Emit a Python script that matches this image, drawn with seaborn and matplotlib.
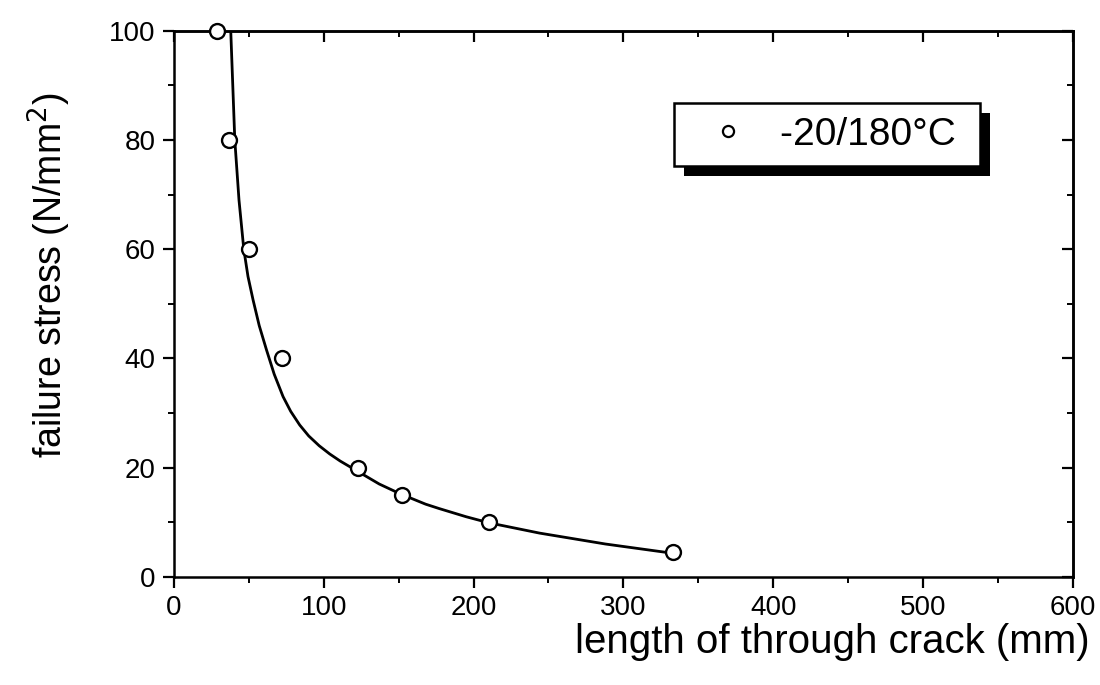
import matplotlib
matplotlib.use("Agg")
import matplotlib.pyplot as plt
import seaborn as sns
import pandas as pd
from matplotlib.patches import Rectangle
from matplotlib.ticker import MultipleLocator

# measured points
crack_mm = [29, 37, 50, 72, 123, 152, 210, 333]
stress = [100, 80, 60, 40, 20, 15, 10, 4.5]

# fitted curve
fit_x = [38, 40.7, 43.5, 46.7, 49.5, 52.9, 57, 61.8, 67, 72.9, 78, 84, 90, 97, 104,
         111, 124, 137, 151, 168, 177, 195, 210, 244, 288, 333]
fit_y = [100, 80, 69, 60, 55, 50.7, 46, 41.6, 37.1, 33.0, 30.3, 27.8, 25.8, 24.0, 22.5,
         21.2, 19.1, 17.0, 15.2, 13.3, 12.5, 11.0, 9.9, 8.0, 6.0, 4.3]

series_label = "-20/180°C"

df_pts = pd.DataFrame({"x": crack_mm, "y": stress})
df_fit = pd.DataFrame({"x": fit_x, "y": fit_y})

sns.set_style("ticks")
plt.rcParams["font.family"] = ["Liberation Sans", "DejaVu Sans"]
plt.rcParams.update({"text.color": "black", "axes.labelcolor": "black",
                     "xtick.color": "black", "ytick.color": "black",
                     "axes.edgecolor": "black"})

fig = plt.figure(figsize=(11, 6.85), dpi=100)
ax = fig.add_axes([0.158, 0.158, 0.8175, 0.797])

sns.lineplot(data=df_fit, x="x", y="y", ax=ax, color="black", lw=2, sort=False,
             estimator=None, zorder=2, legend=False)
sns.scatterplot(data=df_pts, x="x", y="y", ax=ax, marker="o", s=115,
                facecolor="white", edgecolor="black", linewidth=1.7,
                zorder=3, clip_on=False, legend=False)

ax.set_xlim(0, 600)
ax.set_ylim(0, 100)
ax.xaxis.set_major_locator(MultipleLocator(100))
ax.xaxis.set_minor_locator(MultipleLocator(50))
ax.yaxis.set_major_locator(MultipleLocator(20))
ax.yaxis.set_minor_locator(MultipleLocator(10))

for s in ax.spines.values():
    s.set_linewidth(1.8)
    s.set_visible(True)

ax.tick_params(which="major", direction="out", length=8, width=1.6, labelsize=20, pad=5)
ax.tick_params(which="minor", direction="out", length=4, width=1.4)

# top and right: ticks pointing inward, no labels
top = ax.secondary_xaxis("top")
top.xaxis.set_major_locator(MultipleLocator(100))
top.xaxis.set_minor_locator(MultipleLocator(50))
top.tick_params(which="major", direction="in", length=8, width=1.6, labeltop=False)
top.tick_params(which="minor", direction="in", length=4, width=1.4)
top.spines["top"].set_linewidth(1.8)
right = ax.secondary_yaxis("right")
right.yaxis.set_major_locator(MultipleLocator(20))
right.yaxis.set_minor_locator(MultipleLocator(10))
right.tick_params(which="major", direction="in", length=8, width=1.6, labelright=False)
right.tick_params(which="minor", direction="in", length=4, width=1.4)
right.spines["right"].set_linewidth(1.8)

ax.set_xlabel("length of through crack (mm)", fontsize=29, ha="right")
ax.xaxis.set_label_coords(1.018, -0.085)
ax.set_ylabel("failure stress (N/mm$^2$)", fontsize=27)
ax.yaxis.set_label_coords(-0.112, 0.553)

# legend with solid drop shadow
handle = plt.Line2D([], [], ls="", marker="o", ms=8, mfc="white", mec="black", mew=1.6)
leg = ax.legend([handle], [series_label + " "], loc="upper left", bbox_to_anchor=(0.556, 0.868),
                fontsize=28, frameon=True, fancybox=False, borderpad=0.35,
                handletextpad=0.3, borderaxespad=0, handlelength=2.08)
leg.get_frame().set_edgecolor("black")
leg.get_frame().set_linewidth(1.8)
leg.get_frame().set_facecolor("white")
leg.get_frame().set_alpha(1)
leg.set_zorder(5)

fig.canvas.draw()
bb = leg.get_window_extent().transformed(fig.transFigure.inverted())
dx, dy = 10 / 1100, 10 / 685
shadow = Rectangle((bb.x0 + dx, bb.y0 - dy), bb.width, bb.height, transform=fig.transFigure,
                   facecolor="black", edgecolor="none", zorder=4)
ax.add_artist(shadow)
shadow.set_clip_on(False)

fig.savefig("out.png", dpi=100)
